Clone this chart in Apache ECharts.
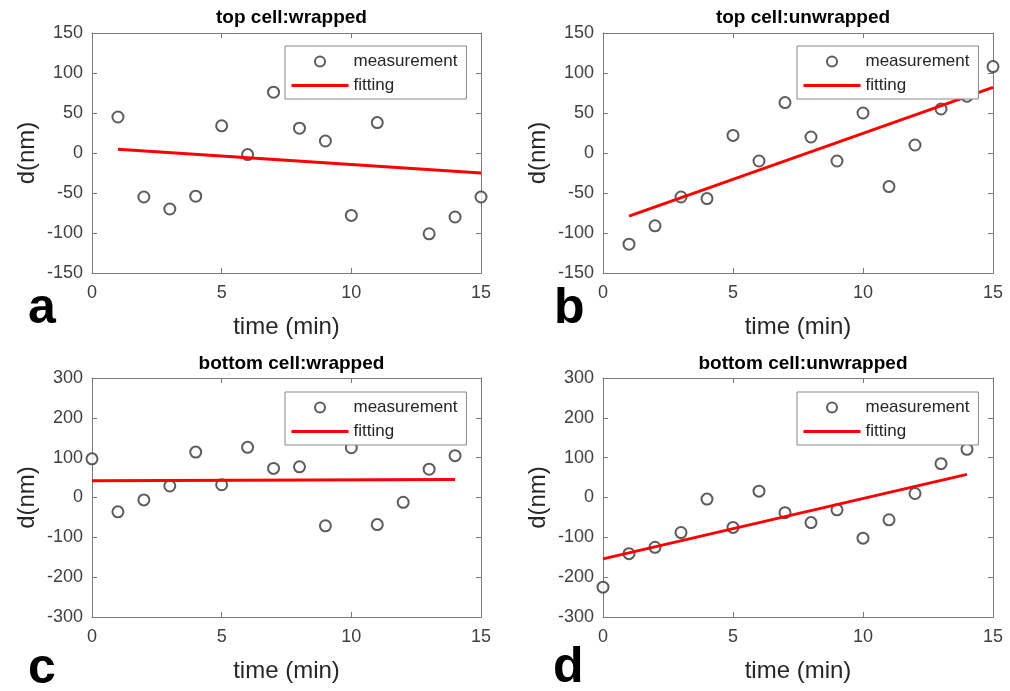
<!DOCTYPE html>
<html><head><meta charset="utf-8">
<script src="https://cdn.jsdelivr.net/npm/echarts@6/dist/echarts.min.js"></script>
<style>html,body{margin:0;padding:0;background:#fff}#c{width:1010px;height:691px}</style>
</head><body><div id="c"></div>
<script>
// ---- data ----
const timeA = [1, 2, 3, 4, 5, 6, 7, 8, 9, 10, 11, 13, 14, 15];
const measA = [45, -55, -70, -54, 34, -2, 76, 31, 15, -78, 38, -101, -80, -55];
const fitTimeA = [1, 15];
const fitA = [4.6, -25];

const timeB = [1, 2, 3, 4, 5, 6, 7, 8, 9, 10, 11, 12, 13, 14, 15];
const measB = [-114, -91, -55, -57, 22, -10, 63, 20, -10, 50, -42, 10, 55, 71, 108];
const fitTimeB = [1, 15];
const fitB = [-79, 82];

const timeC = [0, 1, 2, 3, 4, 5, 6, 7, 8, 9, 10, 11, 12, 13, 14];
const measC = [97, -36, -6, 29, 114, 32, 126, 73, 77, -71, 125, -68, -12, 71, 105];
const fitTimeC = [0, 14];
const fitC = [42, 45];

const timeD = [0, 1, 2, 3, 4, 5, 6, 7, 8, 9, 10, 11, 12, 13, 14];
const measD = [-225, -141, -125, -88, -4, -75, 16, -38, -63, -31, -102, -56, 10, 85, 121];
const fitTimeD = [0, 14];
const fitD = [-154, 58];

const panelTitles = ['top cell:wrapped', 'top cell:unwrapped', 'bottom cell:wrapped', 'bottom cell:unwrapped'];
const panelLetters = ['a', 'b', 'c', 'd'];
const xLabel = 'time (min)';
const yLabel = 'd(nm)';
const legendNames = ['measurement', 'fitting'];
const xRange = [0, 15, 5];
const yRangeTop = [-150, 150, 50];
const yRangeBottom = [-300, 300, 100];

// ---- layout ----
const FONT = '"Liberation Sans", Arial, sans-serif';
const grids = [
  {left: 92, top: 33, width: 389, height: 240},
  {left: 603, top: 33, width: 390, height: 240},
  {left: 92, top: 378, width: 389, height: 239},
  {left: 603, top: 378, width: 390, height: 239}
];
const panels = [
  {t: timeA, m: measA, ft: fitTimeA, f: fitA, yr: yRangeTop},
  {t: timeB, m: measB, ft: fitTimeB, f: fitB, yr: yRangeTop},
  {t: timeC, m: measC, ft: fitTimeC, f: fitC, yr: yRangeBottom},
  {t: timeD, m: measD, ft: fitTimeD, f: fitD, yr: yRangeBottom}
];
const letterPos = [[28, 312], [554, 312], [28, 672], [553, 671]];
const legendPos = [[285, 46], [797, 46], [285, 392], [797, 392]];
const titleOffsets = [30, 30, 29, 29];

const frame = '#7a7a7a';
const tickColor = '#404040';
const zip = (a, b) => a.map((v, i) => [v, b[i]]);

const option = {
  animation: false,
  backgroundColor: '#fff',
  textStyle: {fontFamily: FONT},
  grid: grids.map(g => Object.assign({outerBoundsMode: 'none', containLabel: false}, g)),
  title: grids.map((g, i) => ({
    text: panelTitles[i],
    left: g.left + g.width / 2,
    top: g.top - titleOffsets[i],
    textAlign: 'center',
    textStyle: {fontFamily: FONT, fontWeight: 'bold', fontSize: 19, color: '#000'}
  })),
  legend: legendPos.map(p => ({
    data: [{name: legendNames[0]}, {name: legendNames[1], itemStyle: {opacity: 0}}],
    left: p[0], top: p[1],
    orient: 'vertical',
    itemWidth: 57, itemHeight: 10, itemGap: 7,
    padding: [7, 9, 5, 5],
    backgroundColor: '#fff',
    borderColor: '#888', borderWidth: 1, borderRadius: 0,
    selectedMode: false,
    lineStyle: {width: 3},
    textStyle: {fontFamily: FONT, fontSize: 17, color: '#262626'}
  })),
  xAxis: [],
  yAxis: [],
  series: [],
  graphic: letterPos.map((p, i) => ({
    type: 'text', left: p[0], top: p[1] - 28,
    style: {text: panelLetters[i], font: 'bold 50px ' + FONT, fill: '#000'}
  }))
};

panels.forEach((p, i) => {
  const common = {gridIndex: i, type: 'value', splitLine: {show: false},
    axisLine: {show: true, onZero: false, lineStyle: {color: frame, width: 1}},
    axisTick: {show: true, inside: true, length: 5, lineStyle: {color: frame}}};
  option.xAxis.push(Object.assign({}, common, {
    position: 'bottom', min: xRange[0], max: xRange[1], interval: xRange[2],
    name: xLabel, nameLocation: 'middle', nameGap: 42,
    nameTextStyle: {fontFamily: FONT, fontSize: 24, color: '#262626'},
    axisLabel: {fontFamily: FONT, fontSize: 18, color: tickColor, margin: 11}
  }));
  option.xAxis.push(Object.assign({}, common, {
    position: 'top', min: xRange[0], max: xRange[1], interval: xRange[2],
    axisLabel: {show: false}
  }));
  option.yAxis.push(Object.assign({}, common, {
    position: 'left', min: p.yr[0], max: p.yr[1], interval: p.yr[2],
    name: yLabel, nameLocation: 'middle', nameGap: 53,
    nameTextStyle: {fontFamily: FONT, fontSize: 24, color: '#262626'},
    axisLabel: {fontFamily: FONT, fontSize: 18, color: tickColor, margin: 9}
  }));
  option.yAxis.push(Object.assign({}, common, {
    position: 'right', min: p.yr[0], max: p.yr[1], interval: p.yr[2],
    axisLabel: {show: false}
  }));
  option.series.push({
    name: legendNames[0], type: 'scatter',
    xAxisIndex: 2 * i, yAxisIndex: 2 * i,
    data: zip(p.t, p.m),
    symbol: 'emptyCircle', symbolSize: 11, symbolKeepAspect: true,
    clip: false,
    itemStyle: {color: '#333', borderColor: '#333', borderWidth: 1}
  });
  option.series.push({
    name: legendNames[1], type: 'line',
    xAxisIndex: 2 * i, yAxisIndex: 2 * i,
    data: zip(p.ft, p.f),
    symbol: 'none', showSymbol: false,
    lineStyle: {color: '#ff0000', width: 3},
    itemStyle: {color: '#ff0000'}
  });
});

const chart = echarts.init(document.getElementById('c'), null, {renderer: 'canvas'});
chart.setOption(option);
</script>
</body></html>
